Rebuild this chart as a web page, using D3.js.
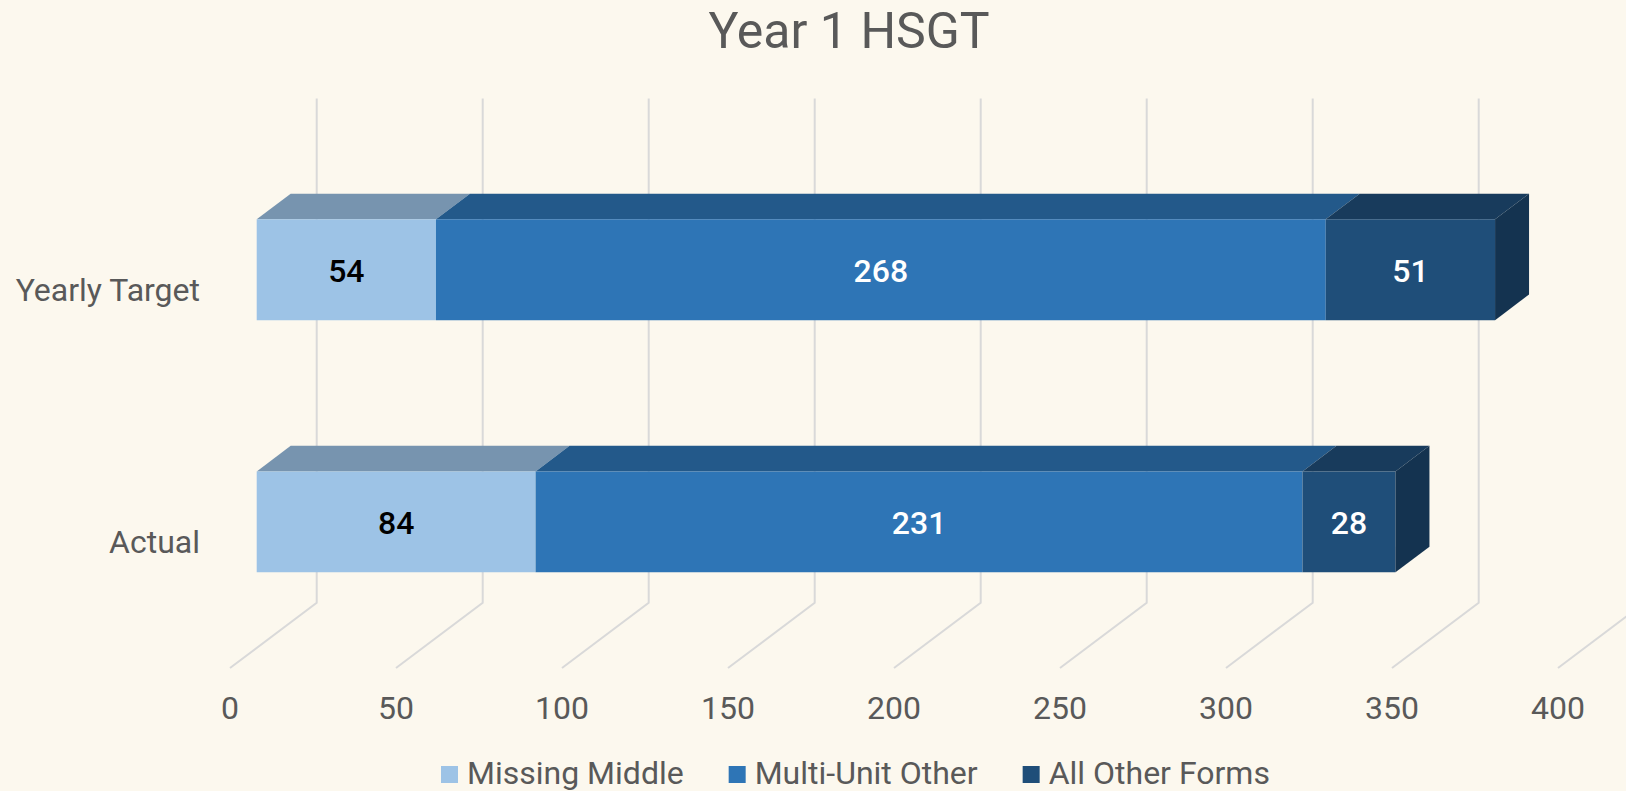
<!DOCTYPE html>
<html>
<head>
<meta charset="utf-8">
<script src="https://cdn.jsdelivr.net/npm/d3@7"></script>
<style>
html,body{margin:0;padding:0;background:#FCF8EE;}
svg{display:block;}
text{font-family:Roboto,"Open Sans",sans-serif;}
</style>
</head>
<body>
<svg id="chart" width="1626" height="791"></svg>
<script>
// ---- data ----
const title = "Year 1 HSGT";
const categories = ["Yearly Target", "Actual"];
const seriesNames = ["Missing Middle", "Multi-Unit Other", "All Other Forms"];
const missingMiddle = [54, 84];
const multiUnitOther = [268, 231];
const allOtherForms = [51, 28];
const tickValues = [0, 50, 100, 150, 200, 250, 300, 350, 400];
const seriesValues = [missingMiddle, multiUnitOther, allOtherForms];

// ---- styles ----
const frontColors = ["#9DC3E6", "#2E75B6", "#1F4E79"];
const labelColors = ["#000000", "#FFFFFF", "#FFFFFF"];
const textColor = "#595959";
const gridColor = "#D9D9D9";

const svg = d3.select("#chart");
svg.append("rect").attr("width",1626).attr("height",791).attr("fill","#FCF8EE");

// ---- geometry ----
const backX0 = 316.7;
const depthDX = -86.7, depthDY = 65.3;
const backTop = 98.5, backBottom = 602.7;
const barFrontD = 0.692, barBackD = 0.30;

const x = d3.scaleLinear().domain([0, 400]).range([0, 1328]);
const y = d3.scaleBand().domain(categories).range([backTop, backBottom])
  .paddingInner(0.6).paddingOuter(0.3);

function P(v, yb, d){ return [backX0 + x(v) + d*depthDX, yb + d*depthDY]; }
function shade(c, k){ const r = d3.rgb(c); return d3.rgb(r.r*k, r.g*k, r.b*k).formatHex(); }

// ---- gridlines (back wall + floor) ----
const grid = svg.append("g");
tickValues.forEach(v => {
  const p0 = P(v, backTop, 0), p1 = P(v, backBottom, 0), p2 = P(v, backBottom, 1);
  grid.append("path")
    .attr("d", d3.line()([p0, p1, p2]))
    .attr("fill","none").attr("stroke",gridColor).attr("stroke-width",2);
});

// ---- tick labels ----
svg.append("g").selectAll("text").data(tickValues).join("text")
  .attr("x", v => P(v, backBottom, 1)[0])
  .attr("y", 719)
  .attr("text-anchor","middle")
  .attr("font-size", 32)
  .attr("fill", textColor)
  .text(v => v);

// ---- category labels ----
svg.append("g").selectAll("text").data(categories).join("text")
  .attr("x", 200)
  .attr("y", c => y(c) + y.bandwidth()/2 + depthDY + 11.5)
  .attr("text-anchor","end")
  .attr("font-size", 32)
  .attr("fill", textColor)
  .text(c => c);

// ---- stacked 3D bars ----
const stack = d3.stack().keys(d3.range(seriesNames.length))
  .value((d, k) => seriesValues[k][d]);
const stacked = stack(d3.range(categories.length));

const bars = svg.append("g");
categories.forEach((cat, ci) => {
  const yt = y(cat), yb = yt + y.bandwidth();
  const last = stacked.length - 1;
  stacked.forEach((layer, si) => {
    const [v0, v1] = layer[ci];
    const col = frontColors[si];
    bars.append("path")
      .attr("d", d3.line()([P(v0,yt,barFrontD), P(v1,yt,barFrontD), P(v1,yt,barBackD), P(v0,yt,barBackD)]) + "Z")
      .attr("fill", shade(col, 0.76));
    bars.append("path")
      .attr("d", d3.line()([P(v0,yt,barFrontD), P(v1,yt,barFrontD), P(v1,yb,barFrontD), P(v0,yb,barFrontD)]) + "Z")
      .attr("fill", col);
    if (si === last) {
      bars.append("path")
        .attr("d", d3.line()([P(v1,yt,barFrontD), P(v1,yt,barBackD), P(v1,yb,barBackD), P(v1,yb,barFrontD)]) + "Z")
        .attr("fill", shade(col, 0.66));
    }
  });
  stacked.forEach((layer, si) => {
    const [v0, v1] = layer[ci];
    const pa = P(v0, (yt+yb)/2, barFrontD), pb = P(v1, (yt+yb)/2, barFrontD);
    bars.append("text")
      .attr("x", (pa[0]+pb[0])/2)
      .attr("y", pa[1] + 12)
      .attr("text-anchor","middle")
      .attr("font-size", 32)
      .attr("font-weight", 500)
      .attr("fill", labelColors[si])
      .text(seriesValues[si][ci]);
  });
});

// ---- title ----
svg.append("text")
  .attr("x", 849).attr("y", 48)
  .attr("text-anchor","middle")
  .attr("font-size", 50)
  .attr("fill", textColor)
  .text(title);

// ---- legend ----
const legend = svg.append("g");
let lx = 441;
seriesNames.forEach((name, i) => {
  legend.append("rect").attr("x", lx).attr("y", 766).attr("width", 17).attr("height", 17)
    .attr("fill", frontColors[i]);
  const t = legend.append("text").attr("x", lx + 26).attr("y", 784)
    .attr("font-size", 32).attr("fill", textColor).text(name);
  lx += 26 + t.node().getComputedTextLength() + 45;
});
</script>
</body>
</html>
